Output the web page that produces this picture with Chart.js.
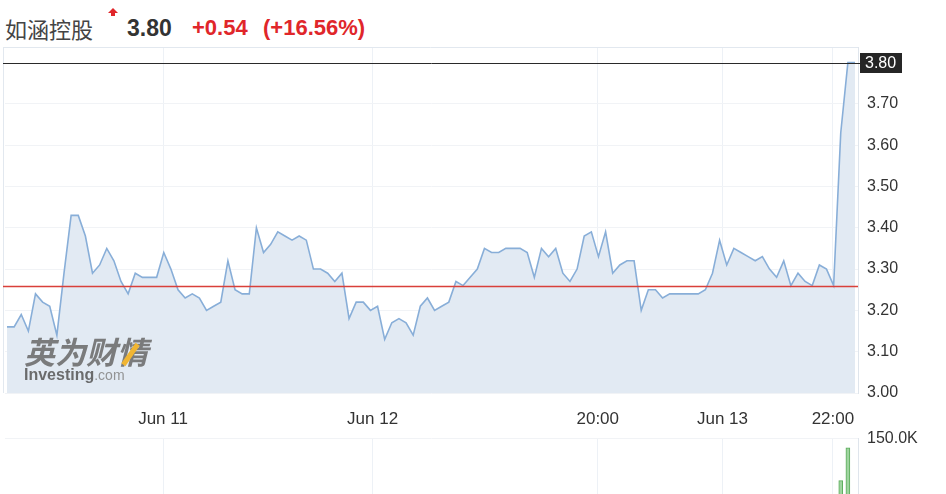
<!doctype html>
<html lang="zh">
<head>
<meta charset="utf-8">
<title>如涵控股</title>
<script src="https://cdn.jsdelivr.net/npm/chart.js"></script>
<style>
  html, body { margin: 0; padding: 0; background: #fff; overflow: hidden; }
  body { width: 946px; height: 494px; position: relative; font-family: "Liberation Sans", Arial, sans-serif; }
  canvas { position: absolute; left: 0; }
  #price { top: 0; }
  #vol { top: 420px; }
  .h { position: absolute; top: 12px; line-height: 32px; font-size: 22px; white-space: nowrap; }
  .name { left: 5px; color: #444; font-family: "Noto Sans CJK SC", sans-serif; font-size: 22px; }
  .last { left: 127px; color: #333; font-weight: bold; font-size: 23px; }
  .chg { left: 192px; color: #e0262a; font-weight: bold; }
  .pct { left: 263px; color: #e0262a; font-weight: bold; }
  .arrow { position: absolute; left: 108px; top: 8px; width: 0; height: 0;
           border-left: 5px solid transparent; border-right: 5px solid transparent; border-bottom: 5px solid #e0262a; }
  .arrow::after { content: ""; position: absolute; left: -2px; top: 5px; width: 4px; height: 3px; background: #e0262a; }
  .wm { position: absolute; left: 24px; top: 333px; color: #6f6f6f; opacity: .9; }
  .wm .cn { font-family: "Noto Sans CJK SC", sans-serif; font-weight: bold; font-size: 31px; line-height: 36px; letter-spacing: 0; font-style: italic; }
  .wm .en { font-size: 16px; line-height: 18px; margin-top: -3px; }
  .wm .en b { color: #5e5e5e; }
  .wm .en span { color: #8a8a8a; font-size: 14px; }
  .slash { position: absolute; left: 104px; top: 9px; width: 5px; height: 25px; background: #f2b01e; transform: rotate(35deg); }
</style>
</head>
<body>
<div class="h name">如涵控股</div>
<div class="arrow"></div>
<div class="h last">3.80</div>
<div class="h chg">+0.54</div>
<div class="h pct">(+16.56%)</div>

<canvas id="price" width="946" height="432"></canvas>
<canvas id="vol" width="946" height="130"></canvas>

<div class="wm">
  <div class="cn">英为财情</div>
  <div class="slash"></div>
  <div class="en"><b>Investing</b><span>.com</span></div>
</div>

<script>
// close prices, one every few minutes, Jun 10 – Jun 13
const prices = [
  3.16, 3.16, 3.19, 3.15, 3.24, 3.22, 3.21, 3.14, 3.29, 3.43,
  3.43, 3.38, 3.29, 3.31, 3.35, 3.32, 3.27, 3.24, 3.29, 3.28,
  3.28, 3.28, 3.34, 3.30, 3.25, 3.23, 3.24, 3.23, 3.20, 3.21,
  3.22, 3.32, 3.25, 3.24, 3.24, 3.40, 3.34, 3.36, 3.39, 3.38,
  3.37, 3.38, 3.37, 3.30, 3.30, 3.29, 3.27, 3.29, 3.18, 3.22,
  3.22, 3.20, 3.21, 3.13, 3.17, 3.18, 3.17, 3.14, 3.21, 3.23,
  3.20, 3.21, 3.22, 3.27, 3.26, 3.28, 3.30, 3.35, 3.34, 3.34,
  3.35, 3.35, 3.35, 3.34, 3.28, 3.35, 3.33, 3.35, 3.29, 3.27,
  3.30, 3.38, 3.39, 3.33, 3.39, 3.29, 3.31, 3.32, 3.32, 3.20,
  3.25, 3.25, 3.23, 3.24, 3.24, 3.24, 3.24, 3.24, 3.25, 3.29,
  3.37, 3.31, 3.35, 3.34, 3.33, 3.32, 3.33, 3.30, 3.28, 3.32,
  3.26, 3.29, 3.27, 3.26, 3.31, 3.30, 3.26, 3.63, 3.80, 3.80
];
const xTickPos = [21.9, 51.3, 82.9, 100.4, 115.9];
const xTickLabels = ['Jun 11', 'Jun 12', '20:00', 'Jun 13', '22:00'];
const yTicks = [3.0, 3.1, 3.2, 3.3, 3.4, 3.5, 3.6, 3.7];
const prevClose = 3.26;
const lastPrice = 3.80;
const volIdx = [117, 118];
const volVals = [82000, 135000];
const volTicks = [150000];

const FONT = '"Liberation Sans", Arial, sans-serif';
const X_MIN = -0.28, X_MAX = 119.42;

const overlay = {
  id: 'overlay',
  afterDatasetsDraw(chart) {
    const { ctx, chartArea: a, scales: { y } } = chart;
    ctx.save();
    ctx.lineWidth = 1;
    ctx.strokeStyle = '#e2e8ef';
    ctx.beginPath();
    ctx.moveTo(a.left - 1.5, a.top + 0.5); ctx.lineTo(a.right, a.top + 0.5);
    ctx.moveTo(a.left - 1.5, a.top); ctx.lineTo(a.left - 1.5, a.bottom);
    ctx.stroke();

    const yc = Math.round(y.getPixelForValue(prevClose)) + 0.5;
    ctx.strokeStyle = '#d9403a';
    ctx.lineWidth = 1.5;
    ctx.beginPath(); ctx.moveTo(3, yc); ctx.lineTo(a.right, yc); ctx.stroke();

    const yl = Math.round(y.getPixelForValue(lastPrice)) + 0.5;
    ctx.strokeStyle = '#2a2a2a';
    ctx.lineWidth = 1;
    ctx.beginPath(); ctx.moveTo(3, yl); ctx.lineTo(a.right + 2, yl); ctx.stroke();

    ctx.fillStyle = '#262626';
    ctx.fillRect(a.right + 2, yl - 10.5, 42, 20);
    ctx.fillStyle = '#fff';
    ctx.font = '16px ' + FONT;
    ctx.textBaseline = 'middle';
    ctx.fillText(lastPrice.toFixed(2), a.right + 7, yl);
    ctx.restore();
  }
};

new Chart(document.getElementById('price'), {
  type: 'line',
  data: {
    datasets: [{
      data: prices.map((v, i) => ({ x: i, y: v })),
      borderColor: '#88aed8',
      borderWidth: 1.6,
      backgroundColor: '#e2eaf3',
      fill: 'start',
      pointRadius: 0,
      tension: 0
    }]
  },
  options: {
    responsive: false,
    animation: false,
    layout: { padding: { top: 47, left: 5, right: 0, bottom: 0 } },
    plugins: { legend: { display: false }, tooltip: { enabled: false } },
    scales: {
      x: {
        type: 'linear', min: X_MIN, max: X_MAX,
        afterBuildTicks: s => { s.ticks = xTickPos.map(v => ({ value: v })); },
        afterFit: s => { s.height = 39; },
        ticks: { callback: (v, i) => xTickLabels[i], color: '#333', font: { size: 17, family: FONT },
                 padding: 16, maxRotation: 0, autoSkip: false },
        grid: { color: '#edf1f6', drawTicks: false },
        border: { display: false }
      },
      y: {
        position: 'right', min: 3.0, max: 3.8376,
        afterBuildTicks: s => { s.ticks = yTicks.map(v => ({ value: v })); },
        afterFit: s => { s.width = 88; },
        ticks: { callback: v => v.toFixed(2), color: '#333', font: { size: 16, family: FONT }, padding: 9 },
        grid: { color: '#f1f3f6', drawTicks: false },
        border: { color: '#dfe5ec' }
      }
    }
  },
  plugins: [overlay]
});

new Chart(document.getElementById('vol'), {
  type: 'bar',
  data: {
    datasets: [{
      data: volIdx.map((x, i) => ({ x: x, y: volVals[i] })),
      backgroundColor: '#9fd49f',
      borderColor: '#5aac5a',
      borderWidth: 1,
      barThickness: 4
    }]
  },
  options: {
    responsive: false,
    animation: false,
    layout: { padding: { top: 7, left: 5, right: 0, bottom: 0 } },
    plugins: { legend: { display: false }, tooltip: { enabled: false } },
    scales: {
      x: {
        type: 'linear', min: X_MIN, max: X_MAX, offset: false,
        afterBuildTicks: s => { s.ticks = xTickPos.map(v => ({ value: v })); },
        afterFit: s => { s.height = 0; },
        ticks: { display: false },
        grid: { color: '#edf1f6', drawTicks: false, offset: false },
        border: { display: false }
      },
      y: {
        position: 'right', min: 0, max: 150000,
        afterBuildTicks: s => { s.ticks = volTicks.map(v => ({ value: v })); },
        afterFit: s => { s.width = 88; },
        ticks: { callback: v => (v / 1000).toFixed(1) + 'K', color: '#333', font: { size: 16, family: FONT }, padding: 9 },
        grid: { color: '#f1f3f6', drawTicks: false },
        border: { color: '#dfe5ec' }
      }
    }
  }
});
</script>
</body>
</html>
